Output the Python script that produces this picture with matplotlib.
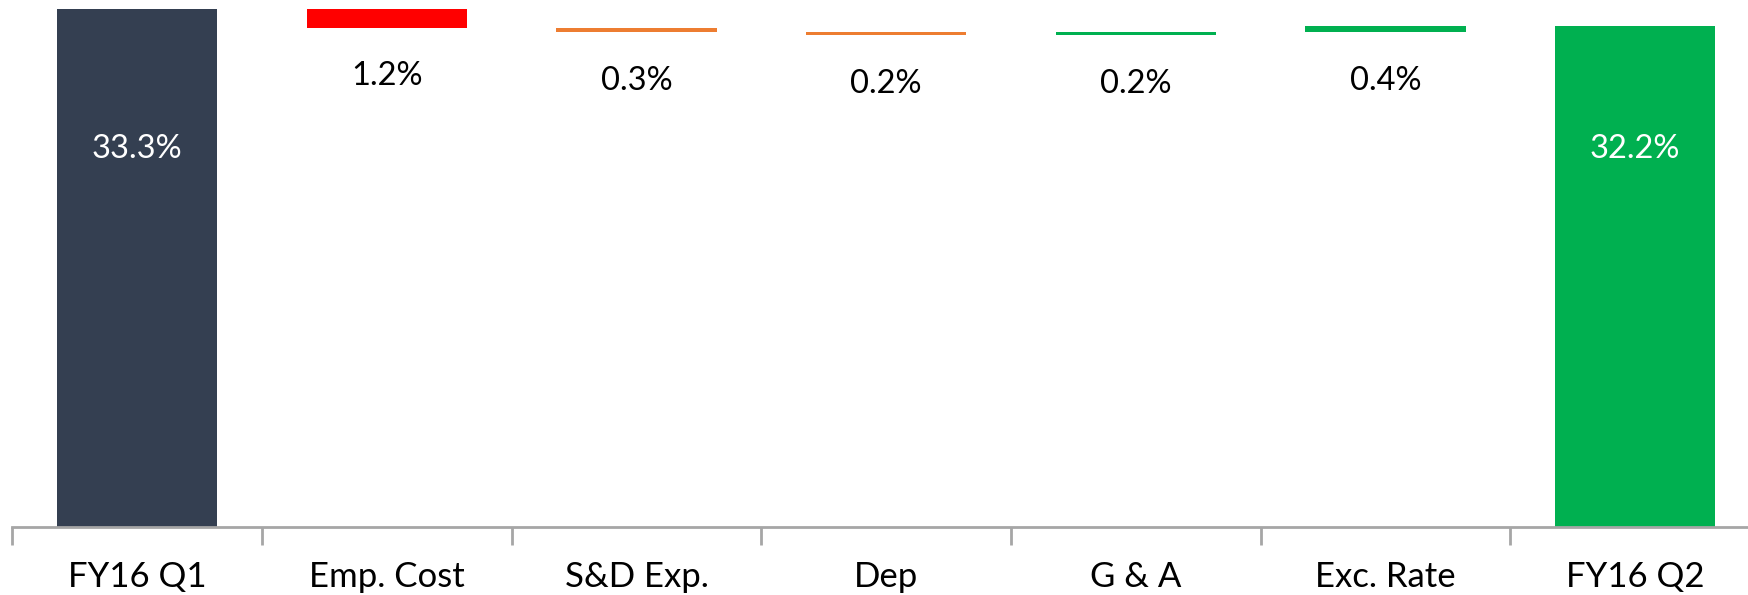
import matplotlib.pyplot as plt
import numpy as np

# margin bridge, quarter to quarter
categories = ["FY16 Q1", "Emp. Cost", "S&D Exp.", "Dep", "G & A", "Exc. Rate", "FY16 Q2"]
start_value = 33.3
changes = [-1.2, -0.3, -0.2, 0.2, 0.4]
end_value = 32.2

navy = "#343F51"
red = "#FF0000"
orange = "#ED7D31"
green = "#00B050"
change_colors = [red, orange, orange, green, green]

plt.rcParams['font.family'] = ['Lato', 'DejaVu Sans']

fig = plt.figure(figsize=(17.48, 5.95), dpi=100)
W, H = 1748, 595
base_px = 527.3
ax = fig.add_axes([12.3 / W, 1 - base_px / H, 1760 / W - 12.3 / W, base_px / H])

x = np.arange(len(categories))
bw = 0.643

# totals
ax.bar(x[0], start_value, width=bw, color=navy)
ax.bar(x[-1], end_value, width=bw, color=green)

# floating steps
running = start_value
bottoms = []
for i, d in enumerate(changes):
    lo = min(running, running + d)
    ax.bar(x[i + 1], abs(d), bottom=lo, width=bw, color=change_colors[i])
    bottoms.append(lo)
    running += d

ax.set_ylim(0, 33.3 + 8.9 / 15.57)
ax.set_xlim(-0.5, len(categories) - 0.5)

# labels
lab_y = 24.3
fs = 23.5
ax.text(x[0], lab_y, f"{start_value:.1f}%", ha="center", va="center", color="white", fontsize=fs)
ax.text(x[-1], lab_y, f"{end_value:.1f}%", ha="center", va="center", color="white", fontsize=fs)
for i, d in enumerate(changes):
    ax.text(x[i + 1], bottoms[i] - 3.1, f"{abs(d):.1f}%", ha="center", va="center",
            color="black", fontsize=fs)

for s in ["top", "right", "left"]:
    ax.spines[s].set_visible(False)
ax.spines["bottom"].set_color("#A6A6A6")
ax.spines["bottom"].set_linewidth(2)
ax.set_yticks([])
ax.set_xticks(x)
ax.set_xticklabels(categories, fontsize=25)
ax.set_xticks(np.arange(-0.5, len(categories)), minor=True)
ax.tick_params(axis="x", which="major", length=0, pad=24)
ax.tick_params(axis="x", which="minor", length=13, width=2, color="#A6A6A6")

fig.savefig("out.png", dpi=100)
